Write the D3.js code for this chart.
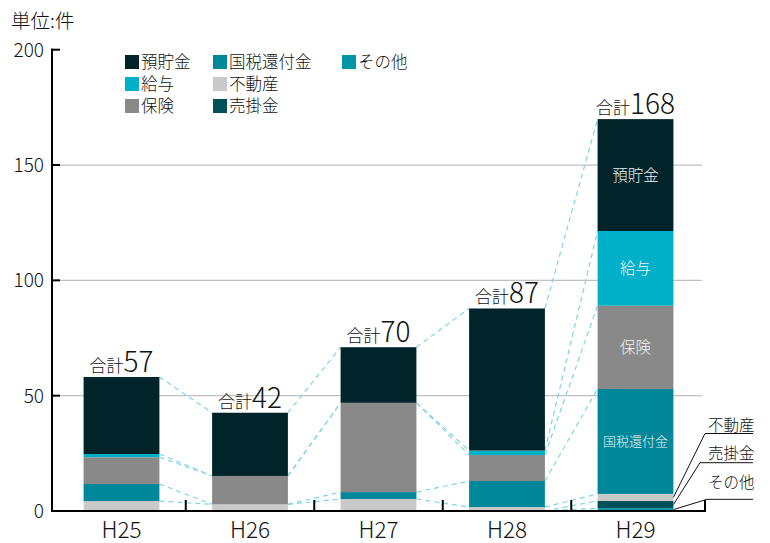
<!DOCTYPE html>
<html><head><meta charset="utf-8">
<script src="https://cdn.jsdelivr.net/npm/d3@7"></script>
<style>
html,body{margin:0;padding:0;background:#fff;}
text{font-family:"Noto Sans CJK JP","Noto Sans",sans-serif;font-weight:300;}
</style></head>
<body><svg id="c" width="770" height="543"></svg>
<script>
// ---- data ----
const categories = ["H25","H26","H27","H28","H29"];
const seriesNames = ["その他","売掛金","不動産","国税還付金","保険","給与","預貯金"]; // bottom -> top
const sonota   = [0, 0, 0, 0, 1.2];
const urikake  = [0, 0, 0, 0, 3.2];
const fudosan  = [4.3, 2.9, 5.2, 1.7, 3.0];
const kokuzei  = [7.4, 0, 3.0, 11.3, 45.5];
const hoken    = [11.6, 12.3, 38.7, 11.3, 36.1];
const kyuyo    = [1.4, 0, 0, 1.9, 32.4];
const yochokin = [33.4, 27.4, 24.1, 61.6, 48.5];
const totalLabels = [57, 42, 70, 87, 168];
const yTicks = [0, 50, 100, 150, 200];
const legendOrder = ["預貯金","国税還付金","その他","給与","不動産","保険","売掛金"];
const colors = {"預貯金":"#00242a","国税還付金":"#00889a","その他":"#0096a8","給与":"#00b0c8","不動産":"#c9c9c9","保険":"#898989","売掛金":"#00505a"};

(function(){
const values = {"その他":sonota,"売掛金":urikake,"不動産":fudosan,"国税還付金":kokuzei,"保険":hoken,"給与":kyuyo,"預貯金":yochokin};
const table = categories.map((c,i)=>{const o={cat:c}; seriesNames.forEach(s=>o[s]=values[s][i]); return o;});
const stacked = d3.stack().keys(seriesNames)(table);

const svg = d3.select("#c");
const y = d3.scaleLinear().domain([0,200]).range([511,49.7]);
const x = d3.scaleBand().domain(categories).range([57.25,699.75]).paddingInner(0.41).paddingOuter(0.205);
const step = x.step(), bw = x.bandwidth();

// gridlines
svg.append("g").selectAll("line").data(yTicks.filter(t=>t>0&&t<200)).join("line")
  .attr("x1",60).attr("x2",702).attr("y1",d=>y(d)).attr("y2",d=>y(d))
  .attr("stroke","#c0c0c0").attr("stroke-width",1.2);

// series lines (dashed connectors)
const conn = svg.append("g");
stacked.forEach(layer=>{
  for(let i=0;i<categories.length-1;i++){
    conn.append("line")
      .attr("x1",x(categories[i])+bw).attr("y1",y(layer[i][1]))
      .attr("x2",x(categories[i+1])).attr("y2",y(layer[i+1][1]))
      .attr("stroke","#80d4e8").attr("stroke-width",1.2).attr("stroke-dasharray","5,4");
  }
});

// bars
svg.append("g").selectAll("g").data(stacked).join("g")
  .attr("fill",d=>colors[d.key])
  .selectAll("rect").data(d=>d).join("rect")
  .attr("x",d=>x(d.data.cat)).attr("width",bw)
  .attr("y",d=>y(d[1])).attr("height",d=>y(d[0])-y(d[1]));

// y axis
const yAxis = svg.append("g");
yAxis.append("line").attr("x1",52).attr("x2",52).attr("y1",y(200)-1).attr("y2",y(0)+1)
  .attr("stroke","#000").attr("stroke-width",2);
yAxis.selectAll("line.t").data(yTicks).join("line").attr("class","t")
  .attr("x1",51).attr("x2",60).attr("y1",d=>y(d)).attr("y2",d=>y(d))
  .attr("stroke","#000").attr("stroke-width",2);
yAxis.selectAll("text").data(yTicks).join("text")
  .attr("x",44).attr("y",d=>y(d)+7).attr("text-anchor","end")
  .attr("font-size",19).attr("fill","#111").text(d=>d);

// x axis
const xAxis = svg.append("g");
xAxis.append("line").attr("x1",51).attr("x2",706).attr("y1",511).attr("y2",511)
  .attr("stroke","#000").attr("stroke-width",2.2);
const bounds = categories.slice(0,-1).map(c=>x(c)+bw+(step-bw)/2).concat([705]);
xAxis.selectAll("line.t").data(bounds).join("line").attr("class","t")
  .attr("x1",d=>d).attr("x2",d=>d).attr("y1",500).attr("y2",511)
  .attr("stroke","#000").attr("stroke-width",2);
xAxis.selectAll("text").data(categories).join("text")
  .attr("x",d=>x(d)+bw/2).attr("y",538).attr("text-anchor","middle")
  .attr("font-size",22.5).attr("fill","#111").text(d=>d);

// unit label
svg.append("text").attr("x",11).attr("y",28).attr("font-size",19.5).attr("fill","#111").text("単位:件");

// legend
const legPos = [[125,62],[213,62],[342,62],[125,84],[213,84],[125,106],[213,106]];
const leg = svg.append("g");
legendOrder.forEach((s,i)=>{
  const [lx,ly]=legPos[i];
  leg.append("rect").attr("x",lx).attr("y",ly-7).attr("width",14).attr("height",14).attr("fill",colors[s]);
  leg.append("text").attr("x",lx+16).attr("y",ly+6).attr("font-size",16.5).attr("fill","#111").text(s);
});

// totals
const topLayer = stacked[stacked.length-1];
categories.forEach((c,i)=>{
  const t = svg.append("text").attr("x",x(c)+bw/2).attr("y",y(topLayer[i][1])-5)
    .attr("text-anchor","middle").attr("fill","#111");
  t.append("tspan").attr("font-size",17).text("合計");
  t.append("tspan").attr("font-size",28).text(totalLabels[i]);
});

// in-bar labels for last category
const last = categories.length-1;
const inBar = [["預貯金",15.5],["給与",15.5],["保険",15.5],["国税還付金",13]];
inBar.forEach(([s,fs])=>{
  const layer = stacked.find(l=>l.key===s);
  const d = layer[last];
  svg.append("text").attr("x",x(categories[last])+bw/2).attr("y",(y(d[0])+y(d[1]))/2+fs*0.36)
    .attr("text-anchor","middle").attr("font-size",fs).attr("fill","#eef2f3").text(s);
});

// callouts for small segments
const callouts = [["不動産",705,433.5,431],["売掛金",700,462.7,459],["その他",707,499.3,488]];
callouts.forEach(([s,lx,ly,ty])=>{
  const layer = stacked.find(l=>l.key===s);
  const d = layer[last];
  const bx = x(categories[last])+bw, by = (y(d[0])+y(d[1]))/2;
  svg.append("line").attr("x1",bx).attr("y1",by).attr("x2",lx).attr("y2",ly).attr("stroke","#111").attr("stroke-width",1);
  svg.append("line").attr("x1",lx).attr("y1",ly).attr("x2",753).attr("y2",ly).attr("stroke","#111").attr("stroke-width",1);
  svg.append("text").attr("x",708).attr("y",ty).attr("font-size",15.5).attr("fill","#111").text(s);
});
})();
</script></body></html>
